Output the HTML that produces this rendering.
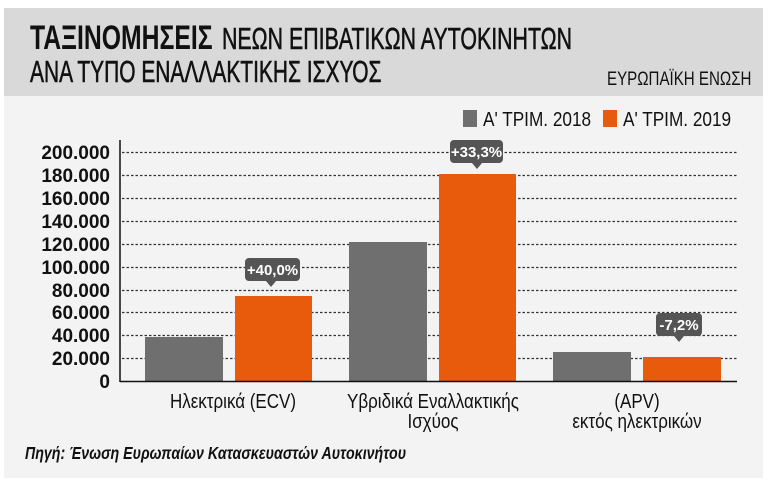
<!DOCTYPE html>
<html><head><meta charset="utf-8"><style>
html,body{margin:0;padding:0;background:#fff;}
svg{display:block;}
text{font-family:"Liberation Sans Narrow","Liberation Sans",sans-serif;}
</style></head><body>
<svg width="768" height="485" viewBox="0 0 768 485">
<rect x="4" y="8" width="759" height="470" fill="#f3f3f3"/>
<rect x="4" y="8" width="759" height="88" fill="#d9d9d9"/>
<g transform="translate(30,49) scale(0.728,1)"><text x="0" y="0" style="font-size:34px" font-weight="bold" fill="#111">ΤΑΞΙΝΟΜΗΣΕΙΣ</text></g>
<g transform="translate(222,49) scale(0.689,1)"><text x="0" y="0" style="font-size:31px" fill="#111" stroke="#111" stroke-width="0.6">ΝΕΩΝ ΕΠΙΒΑΤΙΚΩΝ ΑΥΤΟΚΙΝΗΤΩΝ</text></g>
<g transform="translate(30,82) scale(0.676,1)"><text x="0" y="0" style="font-size:31px" fill="#111" stroke="#111" stroke-width="0.6">ΑΝΑ ΤΥΠΟ ΕΝΑΛΛΑΚΤΙΚΗΣ ΙΣΧΥΟΣ</text></g>
<g transform="translate(607,85) scale(0.796,1)"><text x="0" y="0" style="font-size:19px" fill="#111">ΕΥΡΩΠΑΪΚΗ ΕΝΩΣΗ</text></g>
<rect x="463" y="110" width="14" height="17" fill="#6f6f6f"/>
<g transform="translate(483,126) scale(0.86,1)"><text x="0" y="0" style="font-size:20px" fill="#111">Α' ΤΡΙΜ. 2018</text></g>
<rect x="603" y="110" width="14" height="17" fill="#e85a0c"/>
<g transform="translate(623,126) scale(0.86,1)"><text x="0" y="0" style="font-size:20px" fill="#111">Α' ΤΡΙΜ. 2019</text></g>
<g stroke="#333" stroke-width="1.3" stroke-dasharray="2.5,2">
<line x1="122" y1="152.5" x2="737" y2="152.5"/>
<line x1="122" y1="175.5" x2="737" y2="175.5"/>
<line x1="122" y1="198.5" x2="737" y2="198.5"/>
<line x1="122" y1="221.5" x2="737" y2="221.5"/>
<line x1="122" y1="244.5" x2="737" y2="244.5"/>
<line x1="122" y1="267.5" x2="737" y2="267.5"/>
<line x1="122" y1="290.5" x2="737" y2="290.5"/>
<line x1="122" y1="312.5" x2="737" y2="312.5"/>
<line x1="122" y1="335.5" x2="737" y2="335.5"/>
<line x1="122" y1="358.5" x2="737" y2="358.5"/>
</g>
<g style="font-size:19px" font-weight="bold" fill="#111" text-anchor="end">
<text x="110" y="159">200.000</text><text x="110" y="182">180.000</text><text x="110" y="205">160.000</text>
<text x="110" y="228">140.000</text><text x="110" y="251">120.000</text><text x="110" y="274">100.000</text>
<text x="110" y="297">80.000</text><text x="110" y="319">60.000</text><text x="110" y="342">40.000</text>
<text x="110" y="365">20.000</text><text x="110" y="388">0</text>
</g>
<rect x="145" y="337" width="78" height="45" fill="#6f6f6f"/>
<rect x="235" y="296" width="77" height="86" fill="#e85a0c"/>
<rect x="349" y="242" width="78" height="140" fill="#6f6f6f"/>
<rect x="439" y="174" width="77" height="208" fill="#e85a0c"/>
<rect x="553" y="352" width="78" height="30" fill="#6f6f6f"/>
<rect x="643" y="357" width="78" height="25" fill="#e85a0c"/>
<line x1="120" y1="140" x2="120" y2="382" stroke="#111" stroke-width="1.5"/>
<line x1="120" y1="381.5" x2="737" y2="381.5" stroke="#111" stroke-width="1.5"/>
<g fill="#555"><rect x="245" y="258" width="55" height="23" rx="4"/><path d="M266 281h10l-5 6z"/>
<rect x="450" y="140" width="53" height="23" rx="4"/><path d="M472 163h10l-5 6z"/>
<rect x="656" y="313" width="46" height="23" rx="4"/><path d="M674 336h10l-5 6z"/></g>
<g style="font-size:15px" font-weight="bold" fill="#fff" text-anchor="middle">
<text x="272.5" y="275">+40,0%</text><text x="476.5" y="157">+33,3%</text><text x="679" y="330">-7,2%</text></g>
<g style="font-size:20px" fill="#111" text-anchor="middle">
<g transform="translate(233,408) scale(0.85,1)"><text x="0" y="0">Ηλεκτρικά (ECV)</text></g>
<g transform="translate(433,408) scale(0.85,1)"><text x="0" y="0">Υβριδικά Εναλλακτικής</text><text x="0" y="20">Ισχύος</text></g>
<g transform="translate(637,408) scale(0.85,1)"><text x="0" y="0">(APV)</text><text x="0" y="20">εκτός ηλεκτρικών</text></g>
</g>
<g transform="translate(25,459) scale(0.79,1)"><text x="0" y="0" style="font-size:18px" font-weight="bold" font-style="italic" fill="#111">Πηγή: Ένωση Ευρωπαίων Κατασκευαστών Αυτοκινήτου</text></g>
</svg>
</body></html>
